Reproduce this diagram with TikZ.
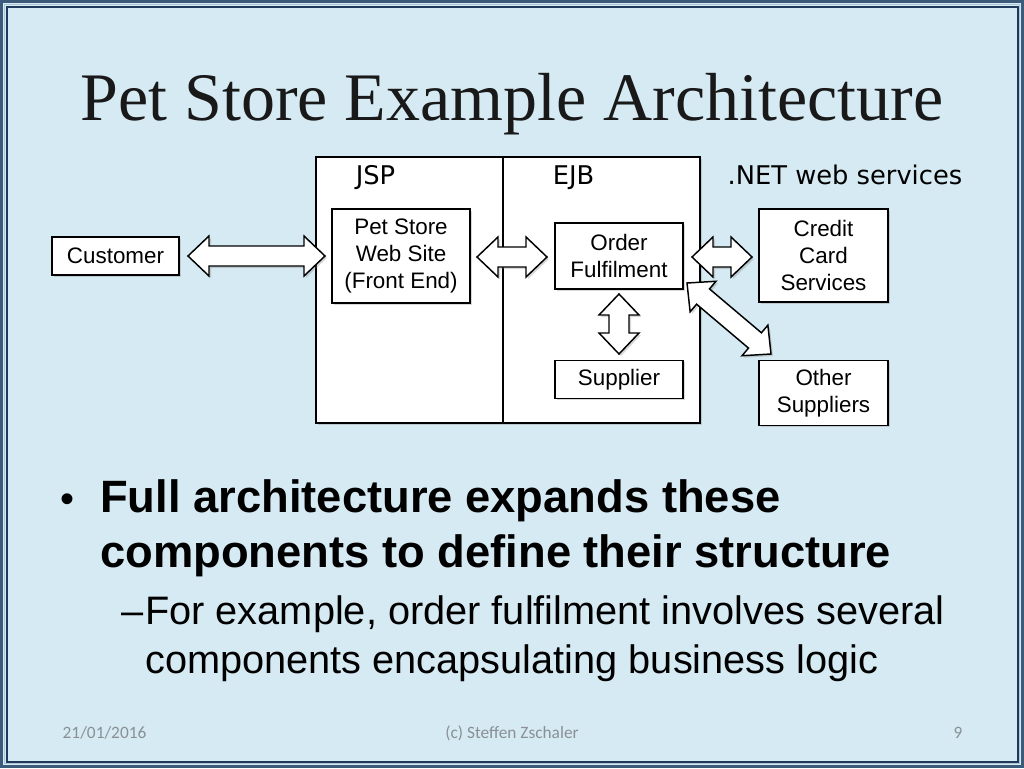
\documentclass[tikz,border=0pt]{standalone}
\usepackage{fontspec}
\setmainfont{Liberation Sans}
\newfontfamily\titlefont{Liberation Serif}
\newfontfamily\layerfont{DejaVu Sans}
\newfontfamily\footfont{Carlito}
\usetikzlibrary{calc, positioning, shadows}

\definecolor{slidebg}{HTML}{D5EAF2}
\definecolor{frameout}{HTML}{3C5A7A}
\definecolor{framemid}{HTML}{AFC6D4}
\definecolor{framein}{HTML}{1F3A5C}
\definecolor{footgrey}{HTML}{8A9096}

% outlined double block arrow between two points
\newcommand\dblarrow[2]{%
  \draw[blockarrow] (#1)
    -- ($(#1)!15.75pt!(#2)!15pt!90:(#2)$) -- ($(#1)!15.75pt!(#2)!7.5pt!90:(#2)$)
    -- ($(#2)!15.75pt!(#1)!7.5pt!-90:(#1)$) -- ($(#2)!15.75pt!(#1)!15pt!-90:(#1)$)
    -- (#2)
    -- ($(#2)!15.75pt!(#1)!15pt!90:(#1)$) -- ($(#2)!15.75pt!(#1)!7.5pt!90:(#1)$)
    -- ($(#1)!15.75pt!(#2)!7.5pt!-90:(#2)$) -- ($(#1)!15.75pt!(#2)!15pt!-90:(#2)$)
    -- cycle;}

\begin{document}
\begin{tikzpicture}[x=0.75pt, y=-0.75pt, part/.style={
        rectangle,
        draw=black,
        fill=white,
        line width=1.1pt,
        inner sep=0pt,
        align=center,
        font=\fontsize{16.8}{20.25}\selectfont,
        drop shadow={opacity=0.3, shadow xshift=1.5pt, shadow yshift=-1.5pt}
    }, layer/.style={
        font=\layerfont\fontsize{19.3}{23}\selectfont,
        anchor=base
    }, blockarrow/.style={
        draw=black, fill=white, line width=1.1pt, line join=miter,
        drop shadow={opacity=0.3, shadow xshift=1.5pt, shadow yshift=-1.5pt}
    }, foot/.style={
        font=\footfont\fontsize{13}{15}\selectfont,
        text=footgrey
    }, bullet/.style={
        anchor=base west,
        inner sep=0pt
    }]
    \useasboundingbox (0,0) rectangle (1024,768);
    % slide background and frame
    \fill[slidebg] (0,0) rectangle (1024,768);
    \draw[frameout, line width=2.6pt] (1.7,1.7) rectangle (1022.3,766.3);
    \draw[framemid, line width=1.2pt] (4.6,4.6) rectangle (1019.4,763.4);
    \draw[framein, line width=1.5pt] (6.5,6.5) rectangle (1017.5,761.5);

    \node (title) [anchor=base, font=\titlefont\fontsize{51}{60}\selectfont, text=black!90]
        at (512,120) {Pet Store Example Architecture};

    % the J2EE container
    \node (jee) [part, line width=1.4pt, minimum width=288pt, minimum height=199.5pt] at (508,290) {};
    \draw[line width=0.8pt] ([xshift=-3.75pt]jee.north) -- ([xshift=-3.75pt]jee.south);
    \node (jsp) [layer] at (375.5,184) {JSP};
    \node (ejb) [layer] at (573.5,184) {EJB};
    \node (net) [layer] at (845,184) {.NET web services};

    \node (cust) [part, minimum width=95.25pt, minimum height=28.5pt] at (115.5,256) {Customer};
    \node (store) [part, minimum width=103.5pt, minimum height=70.5pt] at (401,256) {Pet Store\\Web Site\\(Front End)};
    \node (order) [part, minimum width=96pt, minimum height=49.5pt] at (619,256) {Order\\Fulfilment};
    \node (supplier) [part, below=52.5pt of order, minimum width=96pt, minimum height=28.5pt] {Supplier};
    \node (credit) [part, minimum width=96.75pt, minimum height=69.75pt] at (823.5,255.5) {Credit\\Card\\Services};
    \node (other) [part, below=42.75pt of credit, minimum width=96.75pt, minimum height=48.75pt] {Other\\Suppliers};

    % arrow ends
    \coordinate (c1) at (188,256);
    \coordinate (c2) at (325,256);
    \coordinate (w1) at (477,257);
    \coordinate (w2) at (547,257);
    \coordinate (e1) at (692,257);
    \coordinate (e2) at (752,257);
    \coordinate (s1) at (619,294);
    \coordinate (s2) at (619,354);
    \coordinate (d1) at (687,283);
    \coordinate (d2) at (771,354);
    \dblarrow{c1}{c2}
    \dblarrow{w1}{w2}
    \dblarrow{e1}{e2}
    \dblarrow{s1}{s2}
    \dblarrow{d1}{d2}

    % bullet points
    \node (dot) [bullet, font=\fontsize{30}{36}\selectfont] at (60,512) {•};
    \node (line1) [bullet, font=\bfseries\fontsize{34}{41}\selectfont] at (100,512) {Full architecture expands these};
    \node (line2) [bullet, font=\bfseries\fontsize{34}{41}\selectfont] at (100,567) {components to define their structure};
    \node (dash) [bullet, font=\fontsize{29.8}{36}\selectfont] at (121,624) {--};
    \node (line3) [bullet, font=\fontsize{29.8}{36}\selectfont] at (145,624) {For example, order fulfilment involves several};
    \node (line4) [bullet, font=\fontsize{29.8}{36}\selectfont] at (145,673) {components encapsulating business logic};

    % footer
    \node (date) [foot, anchor=base west] at (58,738) {21/01/2016};
    \node (author) [foot, anchor=base] at (512,738) {(c) Steffen Zschaler};
    \node (page) [foot, anchor=base] at (958,738) {9};
\end{tikzpicture}
\end{document}
